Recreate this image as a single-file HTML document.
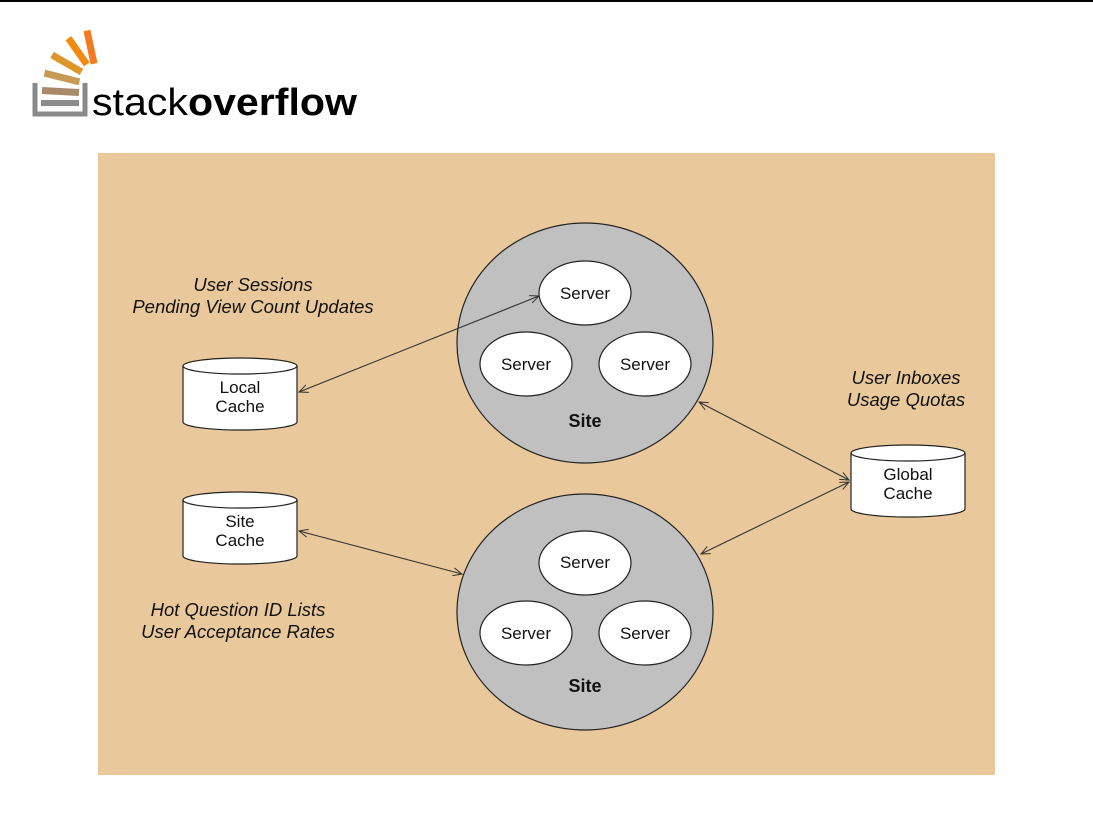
<!DOCTYPE html>
<html><head><meta charset="utf-8"><style>
html,body{margin:0;padding:0;background:#fff;width:1093px;height:819px;overflow:hidden}
svg{display:block}
text{font-family:"Liberation Sans",sans-serif}
</style></head><body>
<svg width="1093" height="819" viewBox="0 0 1093 819">
<defs>
<marker id="a" markerWidth="10" markerHeight="10" refX="9" refY="5" orient="auto-start-reverse" markerUnits="userSpaceOnUse">
<path d="M0,1 L9,5 L0,9" fill="none" stroke="#333" stroke-width="1"/>
</marker>
</defs>
<rect x="0" y="0" width="1093" height="2" fill="#000"/>
<!-- logo -->
<g>
<path d="M35,83 V114 H85 V83" fill="none" stroke="#8a8a8a" stroke-width="5"/>
<rect x="41" y="100" width="38" height="6" fill="#8c8c8c"/>
<rect x="42" y="88" width="37" height="7" fill="#a88a6a" transform="rotate(3 60 91)"/>
<rect x="44" y="74" width="36" height="7" fill="#c69a55" transform="rotate(14 62 77)"/>
<rect x="50" y="60" width="34" height="7" fill="#dc962a" transform="rotate(30 67 63)"/>
<rect x="62" y="48" width="32" height="7" fill="#f08a10" transform="rotate(55 78 51)"/>
<rect x="74" y="44" width="34" height="7" fill="#f47b20" transform="rotate(78 91 47)"/>
<text x="92" y="115" font-size="38" fill="#000" textLength="265" lengthAdjust="spacingAndGlyphs">stack<tspan font-weight="bold">overflow</tspan></text>
</g>
<rect x="98" y="153" width="897" height="622" fill="#e9c99b"/>
<!-- sites -->
<ellipse cx="585" cy="343" rx="128" ry="120" fill="#c0c0c0" stroke="#222" stroke-width="1.2"/>
<ellipse cx="585" cy="612" rx="128" ry="118" fill="#c0c0c0" stroke="#222" stroke-width="1.2"/>
<g fill="#fff" stroke="#222" stroke-width="1.2">
<ellipse cx="585" cy="293" rx="46" ry="32"/>
<ellipse cx="526" cy="364" rx="46" ry="32"/>
<ellipse cx="645" cy="364" rx="46" ry="32"/>
<ellipse cx="585" cy="563" rx="46" ry="32"/>
<ellipse cx="526" cy="633" rx="46" ry="32"/>
<ellipse cx="645" cy="633" rx="46" ry="32"/>
</g>
<g font-size="17" fill="#111" text-anchor="middle">
<text x="585" y="299">Server</text>
<text x="526" y="370">Server</text>
<text x="645" y="370">Server</text>
<text x="585" y="568">Server</text>
<text x="526" y="639">Server</text>
<text x="645" y="639">Server</text>
<text x="585" y="427" font-weight="bold" font-size="18">Site</text>
<text x="585" y="692" font-weight="bold" font-size="18">Site</text>
</g>
<!-- cylinders -->
<g fill="#fff" stroke="#222" stroke-width="1.2">
<path d="M183,366 V422 A57,8 0 0 0 297,422 V366"/>
<ellipse cx="240" cy="366" rx="57" ry="8"/>
<path d="M183,500 V556 A57,8 0 0 0 297,556 V500"/>
<ellipse cx="240" cy="500" rx="57" ry="8"/>
<path d="M851,453 V509 A57,8 0 0 0 965,509 V453"/>
<ellipse cx="908" cy="453" rx="57" ry="8"/>
</g>
<g font-size="17" fill="#111" text-anchor="middle">
<text x="240" y="393">Local</text><text x="240" y="412">Cache</text>
<text x="240" y="527">Site</text><text x="240" y="546">Cache</text>
<text x="908" y="480">Global</text><text x="908" y="499">Cache</text>
</g>
<!-- arrows -->
<g stroke="#333" stroke-width="1.1" fill="none">
<line x1="299" y1="392" x2="539" y2="296" marker-start="url(#a)" marker-end="url(#a)"/>
<line x1="699" y1="402" x2="849" y2="480" marker-start="url(#a)" marker-end="url(#a)"/>
<line x1="701" y1="554" x2="849" y2="482" marker-start="url(#a)" marker-end="url(#a)"/>
<line x1="299" y1="531" x2="462" y2="574" marker-start="url(#a)" marker-end="url(#a)"/>
</g>
<g font-size="18.5" font-style="italic" fill="#111" text-anchor="middle">
<text x="253" y="291">User Sessions</text>
<text x="253" y="313">Pending View Count Updates</text>
<text x="906" y="384">User Inboxes</text>
<text x="906" y="406">Usage Quotas</text>
<text x="238" y="616">Hot Question ID Lists</text>
<text x="238" y="638">User Acceptance Rates</text>
</g>
</svg>
</body></html>
